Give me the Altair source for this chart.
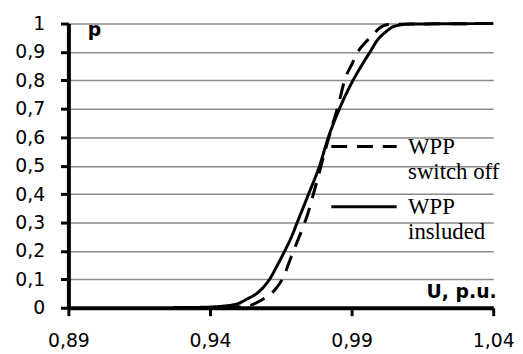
import altair as alt
import pandas as pd

series = ["WPP switch off", "WPP insluded"]

u_off = [0.927, 0.940, 0.946, 0.9505, 0.9533, 0.9565, 0.9595, 0.963, 0.966, 0.9685, 0.9705,
         0.9725, 0.9745, 0.9765, 0.9787, 0.981, 0.9833, 0.9855, 0.9875, 0.990, 0.9925,
         0.995, 0.9975, 1.000, 1.003, 1.04]
p_off = [0, 0.001, 0.002, 0.004, 0.006, 0.018, 0.035, 0.064, 0.11, 0.175, 0.225,
         0.275, 0.33, 0.40, 0.48, 0.565, 0.645, 0.72, 0.80, 0.855, 0.905,
         0.935, 0.96, 0.985, 0.997, 1.0]

u_inc = [0.927, 0.935, 0.941, 0.945, 0.950, 0.9533, 0.9565, 0.9591, 0.961, 0.9638, 0.9664,
         0.9688, 0.9708, 0.9748, 0.9787, 0.9818, 0.9857, 0.9905, 0.9940, 0.9965, 0.999,
         1.002, 1.005, 1.010, 1.04]
p_inc = [0, 0.001, 0.003, 0.006, 0.015, 0.032, 0.05, 0.075, 0.10, 0.15, 0.20,
         0.25, 0.30, 0.40, 0.50, 0.60, 0.70, 0.80, 0.86, 0.90, 0.94,
         0.97, 0.99, 0.998, 1.0]

x_ticks = [0.89, 0.94, 0.99, 1.04]
y_ticks = [0, 0.1, 0.2, 0.3, 0.4, 0.5, 0.6, 0.7, 0.8, 0.9, 1.0]

df = pd.concat([
    pd.DataFrame({"U": u_off, "p": p_off, "s": series[0], "o": range(len(u_off))}),
    pd.DataFrame({"U": u_inc, "p": p_inc, "s": series[1], "o": range(len(u_inc))}),
])

W, H = 429, 287

chart = alt.Chart(df).mark_line(
    color="black", strokeWidth=3, interpolate="monotone"
).encode(
    x=alt.X("U:Q",
            scale=alt.Scale(domain=[0.89, 1.04], nice=False, zero=False),
            axis=alt.Axis(values=x_ticks,
                          labelExpr="replace(format(datum.value, '.2f'), '.', ',')",
                          grid=False, title="U, p.u.", labelFlush=False,
                          titleX=W + 3, titleY=-10, titleAlign="right",
                          titleBaseline="alphabetic", titleAngle=0,
                          labelPadding=16)),
    y=alt.Y("p:Q",
            scale=alt.Scale(domain=[0, 1], nice=False),
            axis=alt.Axis(values=y_ticks, labelFlush=False,
                          labelExpr="replace(format(datum.value, '.1~f'), '.', ',')",
                          grid=True, title="p", titleAngle=0,
                          titleX=19, titleY=12, titleAlign="left",
                          titleBaseline="alphabetic", labelPadding=16)),
    strokeDash=alt.StrokeDash("s:N",
        scale=alt.Scale(domain=series, range=[[16, 10], [1, 0]]),
        legend=alt.Legend(orient="none", legendX=264, legendY=101, title=None,
                          symbolType="M-3,0.96L3,0.96", symbolSize=484,
                          symbolOffset=22,
                          symbolStrokeWidth=3, symbolStrokeColor="black",
                          labelFont="Liberation Serif", labelFontSize=23,
                          labelBaseline="top",
                          labelColor="black", labelLimit=300,
                          labelExpr="[slice(datum.label, 0, 3), slice(datum.label, 4)]",
                          labelOffset=32, rowPadding=0, padding=0)),
    order="o:Q",
).properties(
    width=W, height=H,
    autosize=alt.AutoSizeParams(type="none"),
    padding={"left": 61, "top": 14, "right": 22, "bottom": 44},
).configure_view(stroke=None).configure_axis(
    domainColor="black", domainWidth=4,
    tickColor="black", tickWidth=3, tickSize=8,
    gridColor="#8a8a8a", gridWidth=1.5,
    labelFont="DejaVu Sans", labelFontSize=19, labelColor="black",
    titleFont="DejaVu Sans", titleFontSize=19, titleFontWeight="bold", titleColor="black",
)

chart.save("out.html", embed_options={"renderer": "svg", "actions": False})
